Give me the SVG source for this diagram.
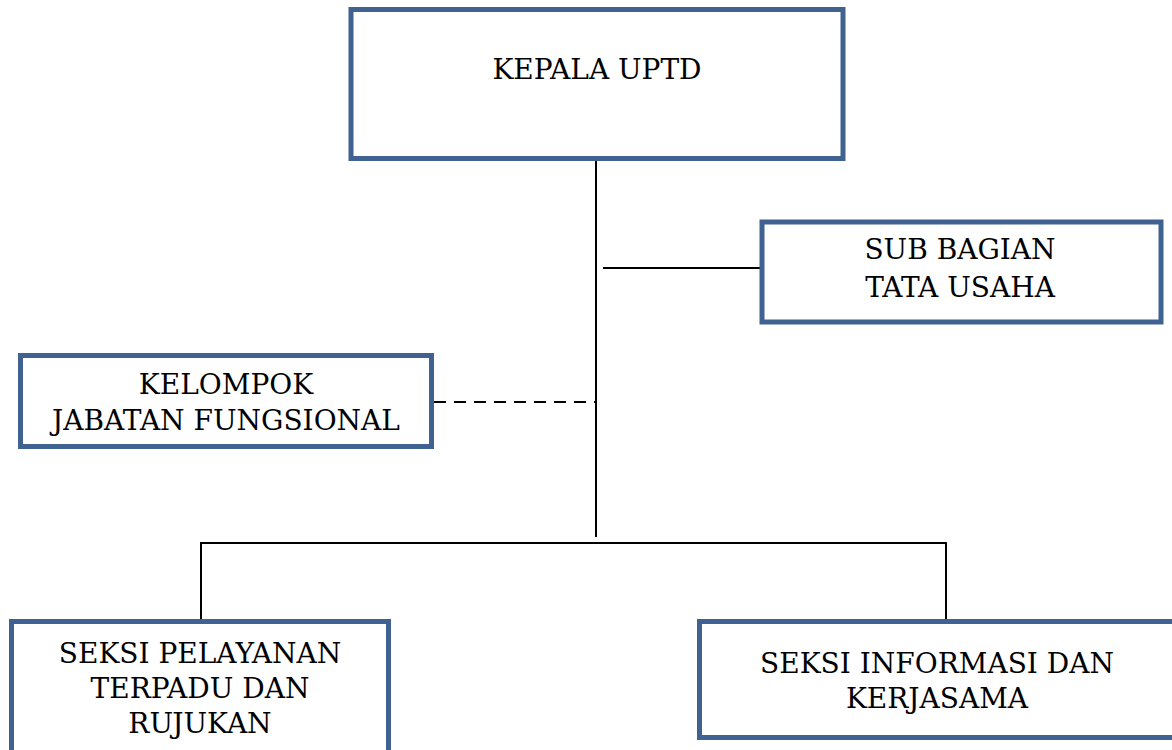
<svg xmlns="http://www.w3.org/2000/svg" width="1172" height="750" viewBox="0 0 1172 750">
<style>
.box{fill:#fff;stroke:#3f6290;stroke-width:5}
.t{font-family:"DejaVu Serif","Liberation Serif",serif;font-size:28px;fill:#000;text-anchor:middle}
.ln{stroke:#000;stroke-width:2;fill:none}
.dash{stroke:#000;stroke-width:2;fill:none;stroke-dasharray:12 8}
</style>
<rect width="1172" height="750" fill="#fff"/>
<g id="connectors">
<line class="ln" x1="596" y1="160" x2="596" y2="537"/>
<line class="ln" x1="603" y1="268" x2="760" y2="268"/>
<line class="dash" x1="434" y1="402" x2="596" y2="402"/>
<polyline class="ln" points="201,620 201,543 946,543 946,620"/>
</g>
<g id="kepala">
<rect class="box" x="351" y="9.5" width="492" height="149"/>
<text class="t" x="597" y="79">KEPALA UPTD</text>
</g>
<g id="subbagian">
<rect class="box" x="762" y="222" width="399" height="100"/>
<text class="t" x="960" y="259">SUB BAGIAN</text>
<text class="t" x="960" y="297">TATA USAHA</text>
</g>
<g id="kelompok">
<rect class="box" x="20.5" y="355.5" width="411" height="91"/>
<text class="t" x="226" y="394">KELOMPOK</text>
<text class="t" x="226" y="430">JABATAN FUNGSIONAL</text>
</g>
<g id="pelayanan">
<rect class="box" x="11.5" y="621.5" width="377" height="132"/>
<text class="t" x="200" y="663">SEKSI PELAYANAN</text>
<text class="t" x="200" y="698">TERPADU DAN</text>
<text class="t" x="200" y="733">RUJUKAN</text>
</g>
<g id="informasi">
<rect class="box" x="699.5" y="621.5" width="480" height="116"/>
<text class="t" x="937" y="673">SEKSI INFORMASI DAN</text>
<text class="t" x="937" y="708">KERJASAMA</text>
</g>
</svg>
